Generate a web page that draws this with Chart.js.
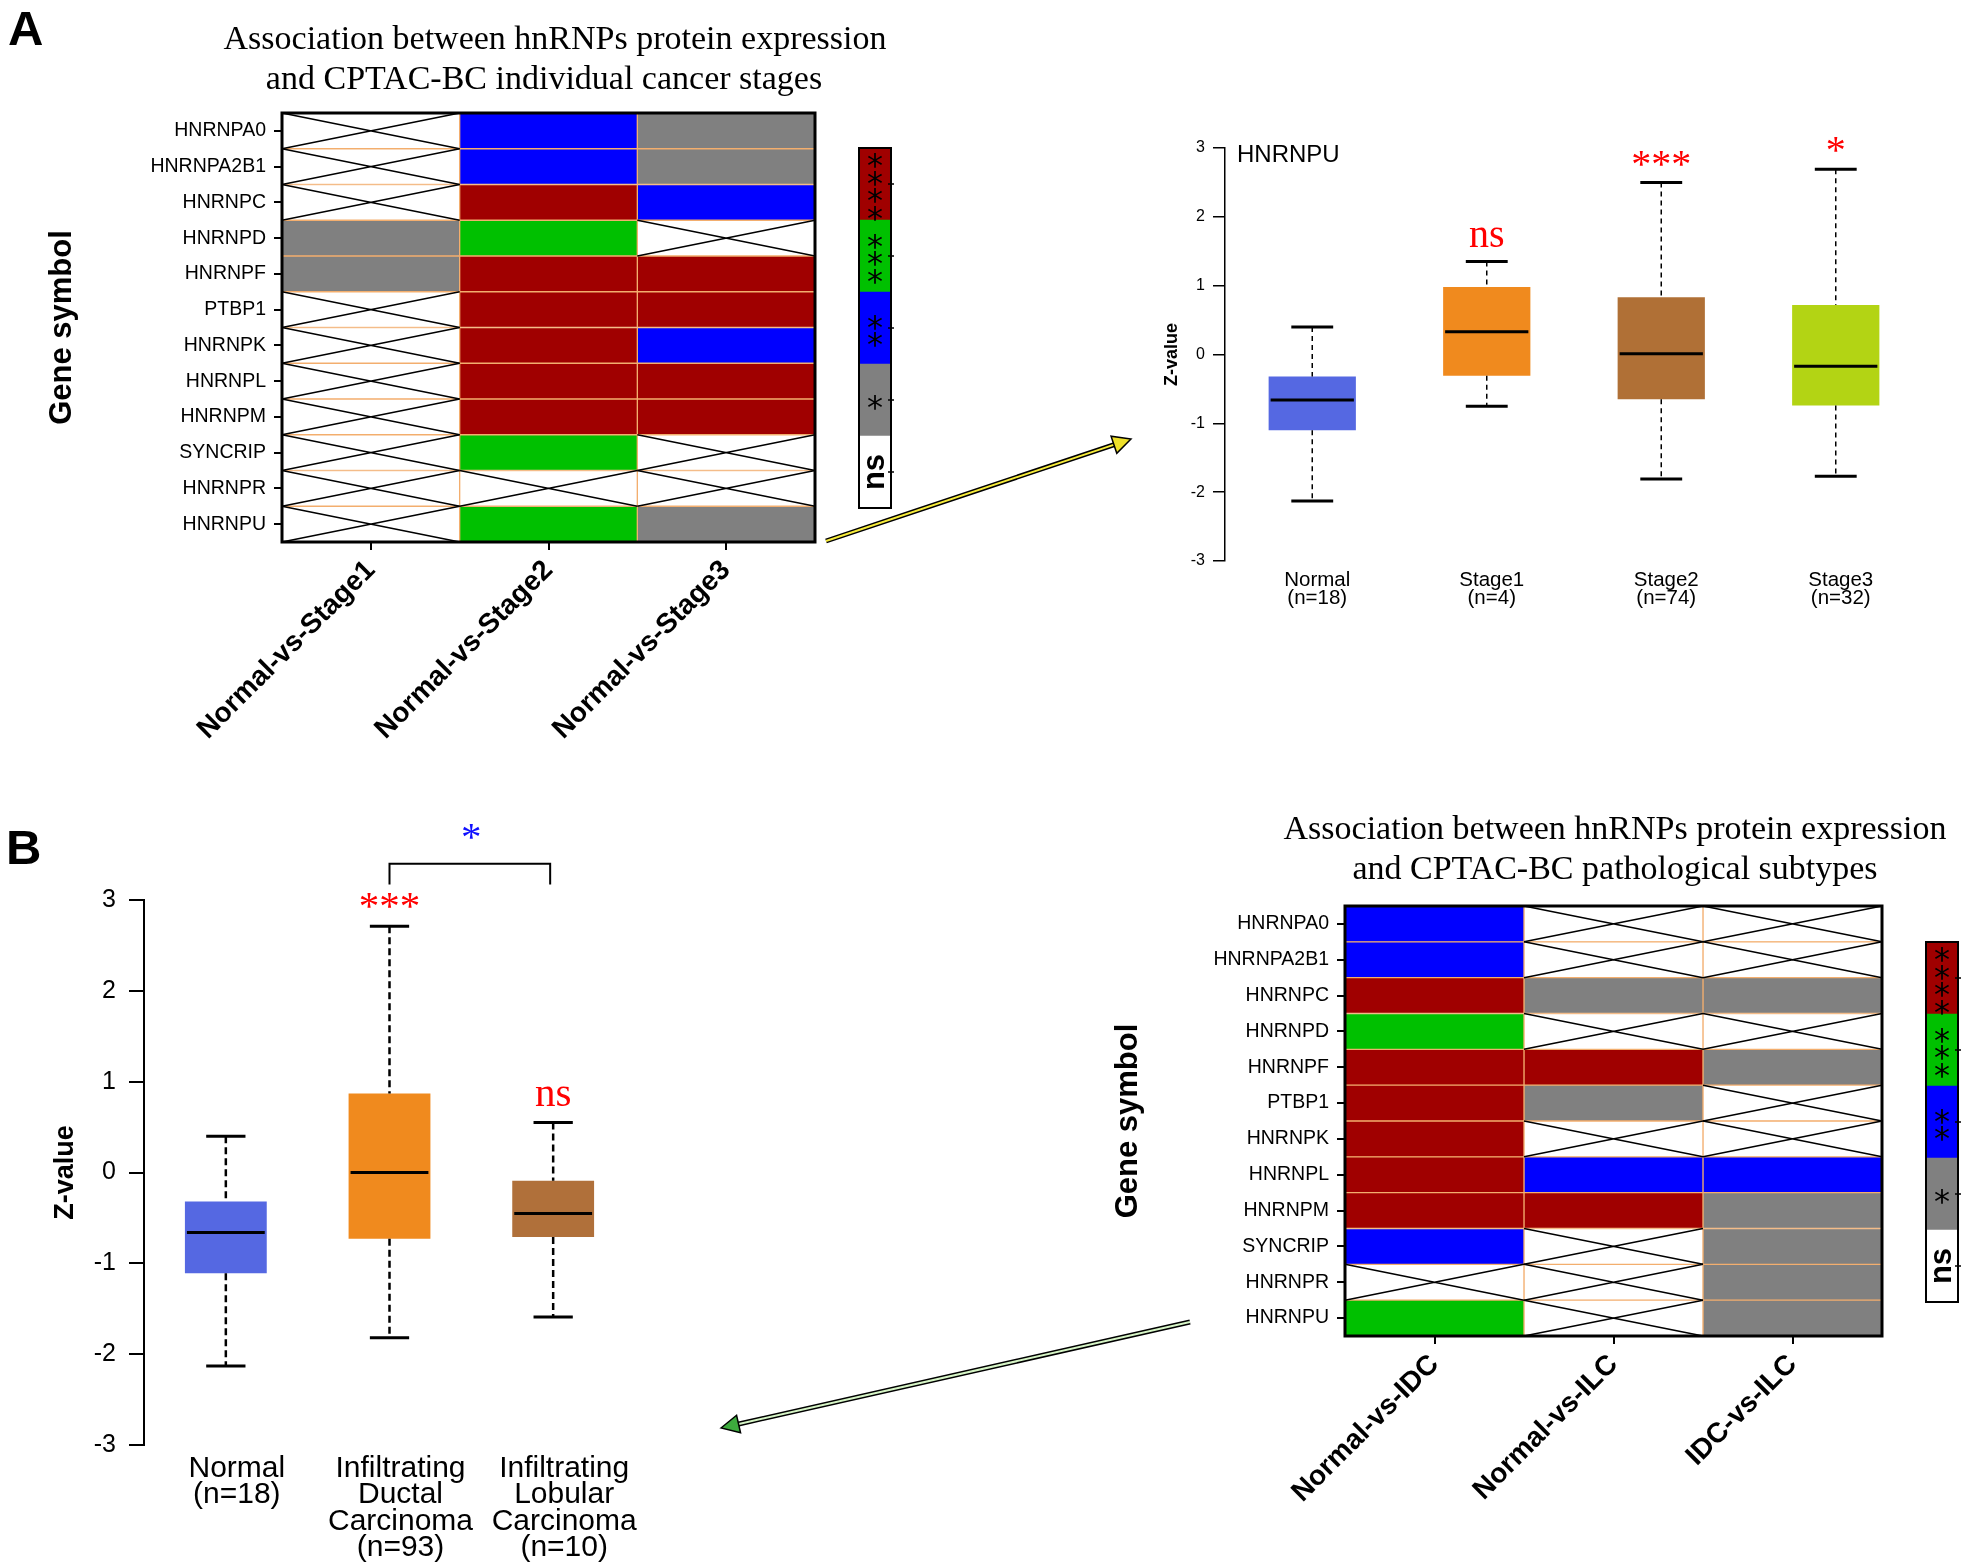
<!DOCTYPE html>
<html lang="en">
<head>
<meta charset="UTF-8">
<title>hnRNPs protein expression in CPTAC-BC</title>
<script src="https://cdn.jsdelivr.net/npm/chart.js@4"></script>
<style>
  html, body { margin: 0; padding: 0; background: #fff; }
  #page { position: relative; width: 1965px; height: 1568px; overflow: hidden; background: #fff; }
  .box { position: absolute; }
  .letter { position: absolute; font: bold 49px "Liberation Sans", Arial, sans-serif; line-height: 49px; color: #000; }
  #arrows { position: absolute; left: 0; top: 0; pointer-events: none; }
</style>
</head>
<body>
<div id="page">
  <div class="letter" style="left:8px;top:4px">A</div>
  <div class="letter" style="left:6px;top:823px">B</div>

  <div class="box" style="left:0;top:0;width:900px;height:780px"><canvas id="heatA"></canvas></div>
  <div class="box" style="left:840px;top:130px;width:80px;height:400px"><canvas id="keyA"></canvas></div>
  <div class="box" style="left:1130px;top:100px;width:835px;height:520px"><canvas id="boxA"></canvas></div>

  <div class="box" style="left:0;top:790px;width:830px;height:778px"><canvas id="boxB"></canvas></div>
  <div class="box" style="left:1090px;top:780px;width:875px;height:788px"><canvas id="heatB"></canvas></div>
  <div class="box" style="left:1900px;top:920px;width:65px;height:410px"><canvas id="keyB"></canvas></div>

  <svg id="arrows" width="1965" height="1568"></svg>
</div>

<script>
// ---- data ----
const genes = ['HNRNPA0', 'HNRNPA2B1', 'HNRNPC', 'HNRNPD', 'HNRNPF', 'PTBP1',
               'HNRNPK', 'HNRNPL', 'HNRNPM', 'SYNCRIP', 'HNRNPR', 'HNRNPU'];

const sigLevels = ['ns', '*', '**', '***', '****'];
const sigColors = ['#FFFFFF', '#808080', '#0000FF', '#00C000', '#A00000'];

// panel A heatmap: individual cancer stages
const stageComparisons = ['Normal-vs-Stage1', 'Normal-vs-Stage2', 'Normal-vs-Stage3'];
const stage1Sig = ['ns', 'ns', 'ns', '*', '*', 'ns', 'ns', 'ns', 'ns', 'ns', 'ns', 'ns'];
const stage2Sig = ['**', '**', '****', '***', '****', '****', '****', '****', '****', '***', 'ns', '***'];
const stage3Sig = ['*', '*', '**', 'ns', '****', '****', '**', '****', '****', 'ns', 'ns', '*'];

// panel B heatmap: pathological subtypes
const subtypeComparisons = ['Normal-vs-IDC', 'Normal-vs-ILC', 'IDC-vs-ILC'];
const idcSig = ['**', '**', '****', '***', '****', '****', '****', '****', '****', '**', 'ns', '***'];
const ilcSig = ['ns', 'ns', '*', 'ns', '****', '*', 'ns', '**', '****', 'ns', 'ns', 'ns'];
const idcIlcSig = ['ns', 'ns', '*', 'ns', '*', 'ns', 'ns', '**', '*', '*', '*', '*'];

// HNRNPU z-values by stage
const stageGroups = [['Normal', '(n=18)'], ['Stage1', '(n=4)'], ['Stage2', '(n=74)'], ['Stage3', '(n=32)']];
const stageLow = [-2.13, -0.75, -1.81, -1.77];
const stageQ1 = [-1.10, -0.31, -0.65, -0.74];
const stageMedian = [-0.66, 0.33, 0.01, -0.17];
const stageQ3 = [-0.32, 0.98, 0.83, 0.72];
const stageHigh = [0.40, 1.35, 2.50, 2.69];
const stageColors = ['#5568E2', '#F08A1E', '#B07036', '#B3D414'];
const stageMarks = ['', 'ns', '***', '*'];
const stageMarkY = [0, 1.69, 2.85, 3.06];

// HNRNPU z-values by subtype
const subtypeGroups = [['Normal', '(n=18)'], ['Infiltrating', 'Ductal', 'Carcinoma', '(n=93)'],
                       ['Infiltrating', 'Lobular', 'Carcinoma', '(n=10)']];
const subtypeLow = [-2.13, -1.82, -1.59];
const subtypeQ1 = [-1.11, -0.73, -0.71];
const subtypeMedian = [-0.66, 0.00, -0.45];
const subtypeQ3 = [-0.32, 0.87, -0.09];
const subtypeHigh = [0.40, 2.71, 0.55];
const subtypeColors = ['#5568E2', '#F08A1E', '#B0703A'];
const subtypeMarks = ['', '***', 'ns'];
const subtypeMarkY = [0, 3.0, 0.83];
const bracketGroups = [1, 2];
const bracketY = [3.17, 3.40];
const bracketMarkY = 3.76;

// ---- setup ----
const SANS = '"Liberation Sans", Arial, sans-serif';
const SERIF = '"Liberation Serif", "Times New Roman", serif';
Chart.defaults.font.family = SANS;
Chart.defaults.color = '#000';

// draws the X over non significant cells
const cellCross = {
  id: 'cellCross',
  afterDatasetsDraw(chart) {
    const ctx = chart.ctx;
    ctx.save();
    ctx.strokeStyle = '#000';
    ctx.lineWidth = 1.6;
    chart.data.datasets.forEach((ds, c) => {
      chart.getDatasetMeta(c).data.forEach((bar, i) => {
        if (ds.sig[i] !== 'ns') return;
        const p = bar.getProps(['x', 'y', 'base', 'height'], true);
        const l = Math.min(p.x, p.base), r = Math.max(p.x, p.base);
        const t = p.y - p.height / 2, b = p.y + p.height / 2;
        ctx.beginPath();
        ctx.moveTo(l, t); ctx.lineTo(r, b);
        ctx.moveTo(l, b); ctx.lineTo(r, t);
        ctx.stroke();
      });
    });
    ctx.restore();
  }
};

function frame(width) {
  return {
    id: 'frame',
    afterDraw(chart) {
      const a = chart.chartArea, ctx = chart.ctx;
      ctx.save();
      ctx.strokeStyle = '#000';
      ctx.lineWidth = width;
      ctx.strokeRect(a.left, a.top, a.right - a.left, a.bottom - a.top);
      ctx.restore();
    }
  };
}

function heading(lines, xs, ys) {
  return {
    id: 'heading',
    afterDraw(chart) {
      const ctx = chart.ctx;
      ctx.save();
      ctx.fillStyle = '#000';
      ctx.font = '34px ' + SERIF;
      ctx.textAlign = 'center';
      ctx.textBaseline = 'middle';
      lines.forEach((t, k) => ctx.fillText(t, xs[k], ys[k]));
      ctx.restore();
    }
  };
}

function heatmap(id, comps, sigs, cfg) {
  return new Chart(document.getElementById(id), {
    type: 'bar',
    data: {
      labels: genes,
      datasets: comps.map((name, c) => ({
        label: name,
        sig: sigs[c],
        data: genes.map(() => [c, c + 1]),
        backgroundColor: sigs[c].map(s => sigColors[sigLevels.indexOf(s)]),
        borderColor: '#F3AE6E',
        borderWidth: 1,
        borderSkipped: false,
        barPercentage: 1,
        categoryPercentage: 1,
        grouped: false
      }))
    },
    options: {
      indexAxis: 'y',
      responsive: true,
      maintainAspectRatio: false,
      animation: false,
      layout: { padding: cfg.padding },
      plugins: { legend: { display: false }, tooltip: { enabled: false } },
      scales: {
        x: {
          type: 'linear', min: 0, max: 3,
          afterBuildTicks: s => { s.ticks = comps.map((_, c) => ({ value: c + 0.5 })); },
          afterFit: s => { s.height = cfg.xHeight; },
          ticks: {
            callback: (v, i) => comps[i],
            autoSkip: false, minRotation: 45, maxRotation: 45,
            font: { size: 28, weight: 'bold' }, padding: 4
          },
          grid: { drawOnChartArea: false, tickLength: 8, color: '#000', lineWidth: 2 },
          border: { display: false }
        },
        y: {
          afterFit: s => { s.width = cfg.yWidth; },
          ticks: { font: { size: 19.5 }, padding: 8, autoSkip: false },
          grid: { drawOnChartArea: false, offset: false, tickLength: 8, color: '#000', lineWidth: 2 },
          border: { display: false },
          title: {
            display: true, text: 'Gene symbol',
            font: { size: 31, weight: 'bold' },
            padding: { top: cfg.titlePad, bottom: 0 }
          }
        }
      }
    },
    plugins: [cellCross, frame(3), heading(cfg.title, cfg.titleX, cfg.titleY)]
  });
}

function sigKey(id, padding) {
  const marks = {
    id: 'marks',
    afterDatasetsDraw(chart) {
      const ctx = chart.ctx, a = chart.chartArea;
      ctx.save();
      ctx.fillStyle = '#000';
      ctx.strokeStyle = '#000';
      ctx.lineWidth = 1.5;
      chart.data.datasets.forEach((ds, k) => {
        const bar = chart.getDatasetMeta(k).data[0];
        const p = bar.getProps(['x', 'y', 'base'], true);
        const cy = (p.y + p.base) / 2;
        ctx.beginPath();
        ctx.moveTo(a.right - 3, cy); ctx.lineTo(a.right + 3, cy);
        ctx.stroke();
        ctx.textAlign = 'center';
        if (ds.label === 'ns') {
          ctx.save();
          ctx.translate(p.x, cy);
          ctx.rotate(-Math.PI / 2);
          ctx.font = 'bold 31px ' + SANS;
          ctx.textBaseline = 'middle';
          ctx.fillText('ns', 0, 0);
          ctx.restore();
        } else {
          const size = 32;
          ctx.font = size + 'px "DejaVu Sans", sans-serif';
          ctx.textBaseline = 'alphabetic';
          const n = ds.label.length;
          for (let j = 0; j < n; j++) {
            ctx.fillText('*', p.x, cy + (j - (n - 1) / 2) * 17.7 + 0.575 * size);
          }
        }
      });
      ctx.restore();
    }
  };
  return new Chart(document.getElementById(id), {
    type: 'bar',
    data: {
      labels: [''],
      datasets: sigLevels.map((lv, k) => ({
        label: lv, data: [1], backgroundColor: sigColors[k],
        borderWidth: 0, barPercentage: 1, categoryPercentage: 1
      }))
    },
    options: {
      responsive: true, maintainAspectRatio: false, animation: false,
      layout: { padding },
      plugins: { legend: { display: false }, tooltip: { enabled: false } },
      scales: {
        x: { stacked: true, display: false },
        y: { stacked: true, display: false, min: 0, max: 5 }
      }
    },
    plugins: [marks, frame(2)]
  });
}

function boxParts(s) {
  return {
    id: 'boxParts',
    afterDatasetsDraw(chart) {
      const ctx = chart.ctx, xs = chart.scales.x, ys = chart.scales.y;
      const meta = chart.getDatasetMeta(0);
      ctx.save();
      ctx.strokeStyle = '#000';
      s.low.forEach((lo, i) => {
        const cx = xs.getPixelForValue(i);
        const half = meta.data[i].width / 2;
        const cap = half * s.cap;
        ctx.lineWidth = s.whisker;
        ctx.setLineDash(s.dash);
        ctx.beginPath();
        ctx.moveTo(cx, ys.getPixelForValue(s.high[i])); ctx.lineTo(cx, ys.getPixelForValue(s.q3[i]));
        ctx.moveTo(cx, ys.getPixelForValue(s.q1[i])); ctx.lineTo(cx, ys.getPixelForValue(lo));
        ctx.stroke();
        ctx.setLineDash([]);
        ctx.lineWidth = 3;
        ctx.beginPath();
        ctx.moveTo(cx - cap, ys.getPixelForValue(s.high[i])); ctx.lineTo(cx + cap, ys.getPixelForValue(s.high[i]));
        ctx.moveTo(cx - cap, ys.getPixelForValue(lo)); ctx.lineTo(cx + cap, ys.getPixelForValue(lo));
        ctx.moveTo(cx - half + 2, ys.getPixelForValue(s.median[i])); ctx.lineTo(cx + half - 2, ys.getPixelForValue(s.median[i]));
        ctx.stroke();
      });
      ctx.restore();
    },
    afterDraw(chart) {
      const ctx = chart.ctx, xs = chart.scales.x, ys = chart.scales.y, a = chart.chartArea;
      ctx.save();
      ctx.textAlign = 'center';
      ctx.textBaseline = 'alphabetic';
      ctx.fillStyle = '#FF0000';
      s.marks.forEach((m, i) => {
        if (!m) return;
        const k = m === 'ns' ? 0.225 : 0.47;
        ctx.font = s.markSize + 'px ' + SERIF;
        ctx.fillText(m, xs.getPixelForValue(i), ys.getPixelForValue(s.markY[i]) + k * s.markSize);
      });
      if (s.gene) {
        ctx.fillStyle = '#000';
        ctx.textAlign = 'left';
        ctx.textBaseline = 'middle';
        ctx.font = '24px ' + SANS;
        ctx.fillText(s.gene, a.left + 12, ys.getPixelForValue(2.9));
      }
      if (s.bracket) {
        const x1 = xs.getPixelForValue(s.bracket[0]), x2 = xs.getPixelForValue(s.bracket[1]);
        const y0 = ys.getPixelForValue(s.bracketY[0]), y1 = ys.getPixelForValue(s.bracketY[1]);
        ctx.strokeStyle = '#000';
        ctx.lineWidth = 2;
        ctx.beginPath();
        ctx.moveTo(x1, y0); ctx.lineTo(x1, y1); ctx.lineTo(x2 - 3, y1); ctx.lineTo(x2 - 3, y0);
        ctx.stroke();
        ctx.fillStyle = '#1010FF';
        ctx.textAlign = 'center';
        ctx.textBaseline = 'alphabetic';
        ctx.font = s.markSize + 'px ' + SERIF;
        ctx.fillText('*', (x1 + x2) / 2, ys.getPixelForValue(s.bracketMarkY) + 0.47 * s.markSize);
      }
      ctx.restore();
    }
  };
}

function boxChart(id, groups, colors, s, cfg) {
  return new Chart(document.getElementById(id), {
    type: 'bar',
    data: {
      labels: groups,
      datasets: [{
        data: s.q1.map((q, i) => [q, s.q3[i]]),
        backgroundColor: colors,
        borderWidth: 0,
        barPercentage: 0.5,
        categoryPercentage: 1
      }]
    },
    options: {
      responsive: true, maintainAspectRatio: false, animation: false,
      layout: { padding: cfg.padding },
      plugins: { legend: { display: false }, tooltip: { enabled: false } },
      scales: {
        x: {
          afterFit: sc => { sc.height = cfg.xHeight; },
          grid: { display: false },
          border: { display: false },
          ticks: { font: cfg.xFont, padding: cfg.xPad, labelOffset: cfg.xShift, autoSkip: false, maxRotation: 0 }
        },
        y: {
          min: -3, max: 3,
          afterFit: sc => { sc.width = cfg.yWidth; },
          ticks: { stepSize: 1, font: { size: cfg.yTickSize }, padding: cfg.yPad },
          grid: { drawOnChartArea: false, tickLength: cfg.tick, color: '#000', lineWidth: cfg.axisWidth },
          border: { display: true, color: '#000', width: cfg.axisWidth },
          title: {
            display: true, text: 'Z-value',
            font: { size: cfg.titleSize, weight: 'bold' },
            padding: { top: cfg.titlePad, bottom: 0 }
          }
        }
      }
    },
    plugins: [boxParts(s)]
  });
}

// ---- panel A ----
heatmap('heatA', stageComparisons, [stage1Sig, stage2Sig, stage3Sig], {
  padding: { left: 0, top: 113, right: 85, bottom: 0 },
  yWidth: 282, xHeight: 238, titlePad: 44,
  title: ['Association between hnRNPs protein expression', 'and CPTAC-BC individual cancer stages'],
  titleX: [555, 544], titleY: [40, 80]
});

sigKey('keyA', { left: 19, top: 18, right: 29, bottom: 22 });

boxChart('boxA', stageGroups, stageColors, {
  low: stageLow, q1: stageQ1, median: stageMedian, q3: stageQ3, high: stageHigh,
  marks: stageMarks, markY: stageMarkY, markSize: 40,
  cap: 0.48, whisker: 1.5, dash: [5, 4], gene: 'HNRNPU'
}, {
  padding: { left: 0, top: 48, right: 42, bottom: 0 },
  yWidth: 95, xHeight: 59, xPad: 2, xShift: 5,
  xFont: { size: 20.5, lineHeight: '18px' },
  yTickSize: 16, yPad: 8, tick: 12, axisWidth: 1.5,
  titleSize: 18, titlePad: 31
});

// ---- panel B ----
boxChart('boxB', subtypeGroups, subtypeColors, {
  low: subtypeLow, q1: subtypeQ1, median: subtypeMedian, q3: subtypeQ3, high: subtypeHigh,
  marks: subtypeMarks, markY: subtypeMarkY, markSize: 41,
  cap: 0.48, whisker: 2.5, dash: [7, 4],
  bracket: bracketGroups, bracketY: bracketY, bracketMarkY: bracketMarkY
}, {
  padding: { left: 0, top: 110, right: 195, bottom: 0 },
  yWidth: 144, xHeight: 123, xPad: 2, xShift: 11,
  xFont: { size: 30, lineHeight: '26.5px' },
  yTickSize: 25, yPad: 13, tick: 15, axisWidth: 2,
  titleSize: 27, titlePad: 49
});

heatmap('heatB', subtypeComparisons, [idcSig, ilcSig, idcIlcSig], {
  padding: { left: 0, top: 126, right: 83, bottom: 0 },
  yWidth: 255, xHeight: 232, titlePad: 20,
  title: ['Association between hnRNPs protein expression', 'and CPTAC-BC pathological subtypes'],
  titleX: [525, 525], titleY: [50, 90]
});

sigKey('keyB', { left: 26, top: 22, right: 7, bottom: 28 });

// ---- linking arrows ----
function arrow(svg, from, to, core, head) {
  const ns = 'http://www.w3.org/2000/svg';
  const dx = to[0] - from[0], dy = to[1] - from[1];
  const len = Math.hypot(dx, dy);
  const ux = dx / len, uy = dy / len, nx = -uy, ny = ux;
  const bx = to[0] - 18 * ux, by = to[1] - 18 * uy;
  [['#000', 5], [core, 2]].forEach(([c, w]) => {
    const l = document.createElementNS(ns, 'line');
    l.setAttribute('x1', from[0]); l.setAttribute('y1', from[1]);
    l.setAttribute('x2', bx + 2 * ux); l.setAttribute('y2', by + 2 * uy);
    l.setAttribute('stroke', c); l.setAttribute('stroke-width', w);
    svg.appendChild(l);
  });
  const p = document.createElementNS(ns, 'polygon');
  p.setAttribute('points', [[to[0], to[1]], [bx + 9 * nx, by + 9 * ny], [bx - 9 * nx, by - 9 * ny]].map(q => q.join(',')).join(' '));
  p.setAttribute('fill', head); p.setAttribute('stroke', '#000'); p.setAttribute('stroke-width', 1.5);
  svg.appendChild(p);
}
const svg = document.getElementById('arrows');
arrow(svg, [826, 541], [1131, 439], '#F7EC3C', '#EEE02A');
arrow(svg, [1190, 1322], [721, 1428], '#D6F5C6', '#3DAA3D');
</script>
</body>
</html>
